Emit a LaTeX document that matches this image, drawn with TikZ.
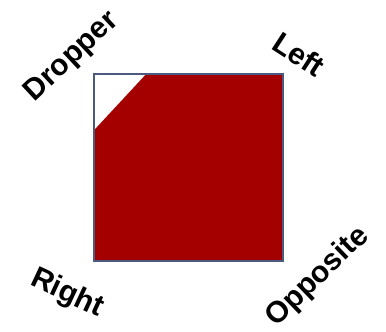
\documentclass[tikz,border=0pt]{standalone}
\usepackage{fontspec}
\setmainfont{Liberation Sans}
\definecolor{boxred}{HTML}{A50000}
\definecolor{boxedge}{HTML}{4A5A80}
\begin{document}
\begin{tikzpicture}[x=1pt,y=-1pt,
  lab/.style={font=\bfseries\fontsize{30}{30}\selectfont, inner sep=0pt}]
\useasboundingbox (0,0) rectangle (386,332);
\path[fill=boxred] (94,74) rectangle (283,261);
\path[fill=white] (94,74) -- (146,74) -- (94,130) -- cycle;
\draw[boxedge, line width=1.2pt] (94,74) rectangle (283,261);
\node[lab, rotate=43] (dropper) at (72,57) {Dropper};
\node[lab, rotate=-33] (left) at (299,54) {Left};
\node[lab, rotate=-25] (right) at (67,294) {Right};
\node[lab, rotate=44] (opposite) at (318,277) {Opposite};
\end{tikzpicture}
\end{document}
